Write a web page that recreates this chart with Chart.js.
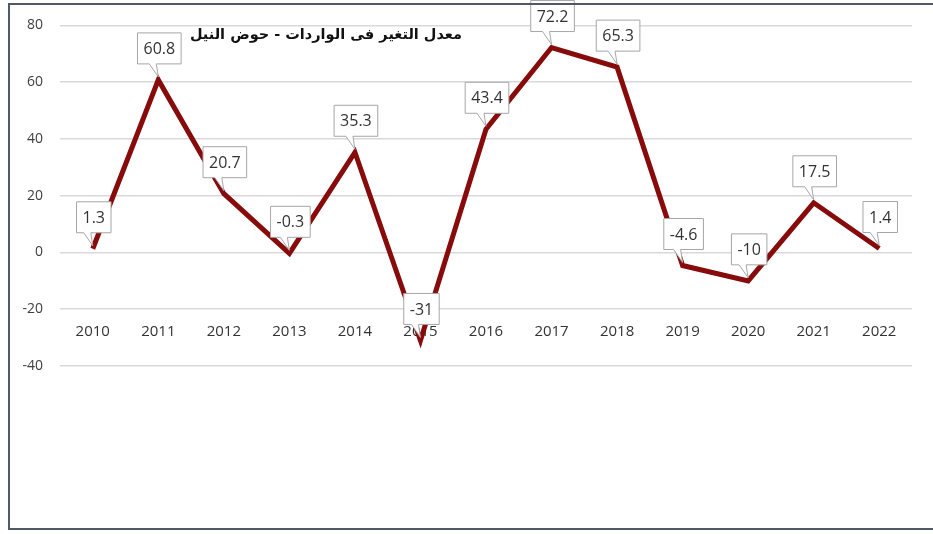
<!DOCTYPE html>
<html>
<head>
<meta charset="utf-8">
<script src="https://cdn.jsdelivr.net/npm/chart.js@4"></script>
<style>
  html, body { margin: 0; padding: 0; background: #fff; overflow: hidden; }
  #wrap { position: relative; width: 933px; height: 534px; }
  #frame { position: absolute; left: 8px; top: 3px; width: 940px; height: 527px;
           border: 2px solid #505a66; box-sizing: border-box; pointer-events: none; }
  #title { position: absolute; right: 471px; top: 26px; direction: rtl;
           font: bold 14.5px "DejaVu Sans", sans-serif; color: #111; white-space: nowrap; }
</style>
</head>
<body>
<div id="wrap">
  <canvas id="chart"></canvas>
  <div id="frame"></div>
  <div id="title">معدل التغير فى الواردات - حوض النيل</div>
</div>
<script>
const years = ["2010", "2011", "2012", "2013", "2014", "2015", "2016",
               "2017", "2018", "2019", "2020", "2021", "2022"];
const changeRate = [1.3, 60.8, 20.7, -0.3, 35.3, -31, 43.4, 72.2, 65.3, -4.6, -10, 17.5, 1.4];
const yTicks = [80, 60, 40, 20, 0, -20, -40];

// white callout boxes with a little tail pointing to each point
const calloutLabels = {
  id: 'calloutLabels',
  afterDatasetsDraw(chart) {
    const ctx = chart.ctx;
    const meta = chart.getDatasetMeta(0);
    ctx.save();
    ctx.font = '16px "Open Sans", sans-serif';
    ctx.textAlign = 'center';
    ctx.textBaseline = 'middle';
    meta.data.forEach((pt, i) => {
      const txt = String(changeRate[i]);
      const w = ctx.measureText(txt).width + 12;
      const h = 31;
      const px = pt.x, py = pt.y;
      const left = px - w / 2 + 1;
      const bottom = py - 16;
      const top = bottom - h;
      ctx.beginPath();
      ctx.moveTo(left, top);
      ctx.lineTo(left + w, top);
      ctx.lineTo(left + w, bottom);
      ctx.lineTo(px - 2, bottom);
      ctx.lineTo(px, py - 3);
      ctx.lineTo(px - 9, bottom);
      ctx.lineTo(left, bottom);
      ctx.closePath();
      ctx.fillStyle = '#ffffff';
      ctx.fill();
      ctx.strokeStyle = '#a6a6a6';
      ctx.lineWidth = 1;
      ctx.stroke();
      ctx.fillStyle = '#333333';
      ctx.fillText(txt, left + w / 2, top + h / 2 + 1);
    });
    ctx.restore();
  }
};

new Chart(document.getElementById('chart'), {
  type: 'line',
  data: {
    labels: years,
    datasets: [{
      data: changeRate,
      borderColor: '#870b0b',
      borderWidth: 5,
      pointRadius: 0,
      tension: 0,
      clip: false
    }]
  },
  options: {
    responsive: true,
    maintainAspectRatio: false,
    animation: false,
    layout: { padding: { left: 0, top: 24, right: 21, bottom: 168 } },
    plugins: { legend: { display: false }, tooltip: { enabled: false } },
    scales: {
      x: {
        position: { y: -20 },
        offset: true,
        grid: { display: false },
        border: { display: false },
        ticks: { color: '#333333', padding: 6, maxRotation: 0,
                 font: { family: 'Open Sans', size: 15 } }
      },
      y: {
        min: -40,
        max: 80,
        afterFit(scale) { scale.width = 60; },
        afterBuildTicks(scale) { scale.ticks = yTicks.map(v => ({ value: v })); },
        grid: { color: '#d9d9d9', lineWidth: 1.5, drawTicks: false },
        border: { display: false },
        ticks: { color: '#404040', padding: 17,
                 font: { family: 'Open Sans', size: 14 } }
      }
    }
  },
  plugins: [calloutLabels]
});
</script>
</body>
</html>
